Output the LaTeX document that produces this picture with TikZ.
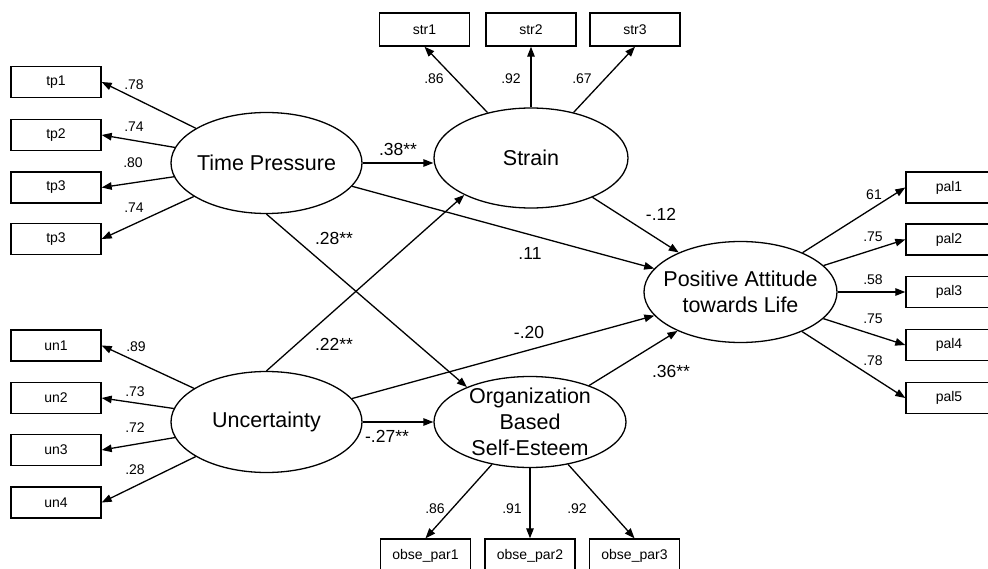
\documentclass[tikz,border=0pt]{standalone}
\usepackage{fontspec}
\setmainfont{Liberation Sans}
\usetikzlibrary{shapes.geometric,arrows.meta}
\begin{document}
\begin{tikzpicture}[x=1pt,y=-1pt,
  lat/.style={draw, ellipse, line width=1.3pt, inner sep=0pt},
  lattext/.style={align=center, font=\fontsize{21.5}{26}\selectfont, inner sep=0pt},
  obs/.style={draw, rectangle, line width=1.4pt, minimum width=90pt, minimum height=31pt, inner sep=0pt, font=\fontsize{14}{16}\selectfont},
  arr/.style={-{Triangle[length=10pt,width=7.5pt]}, line width=1.3pt},
  ld/.style={font=\fontsize{14}{16}\selectfont, inner sep=0pt},
  co/.style={font=\fontsize{17.5}{20}\selectfont, inner sep=0pt}]
\useasboundingbox (0,0) rectangle (988,569);
\clip (0,0) rectangle (988,569);

% latent variables
\node[lat, minimum width=191pt, minimum height=101pt] (TP) at (266.5,163) {};
\node[lattext] (TPt) at (TP) {Time Pressure};
\node[lat, minimum width=191pt, minimum height=101pt] (UN) at (266.5,422) {};
\node[lattext] (UNt) at (UN) {Uncertainty};
\node[lat, minimum width=194pt, minimum height=100pt] (S) at (531,158) {};
\node[lattext] (St) at (S) {Strain};
\node[lat, minimum width=193pt, minimum height=101pt] (PAL) at (740.5,292) {};
\node[lattext] (PALt) at (PAL) {Positive Attitude\\towards Life};
\node[lat, minimum width=192pt, minimum height=91pt] (OB) at (530,422) {};
\node[lattext] (OBt) at (OB) {Organization\\Based\\Self-Esteem};

% observed variables
\node[obs] (tp1) at (56,82) {tp1};
\node[obs] (tp2) at (56,135) {tp2};
\node[obs] (tp3) at (56,187.5) {tp3};
\node[obs] (tp4) at (56,239) {tp3};
\node[obs] (un1) at (56,345.5) {un1};
\node[obs] (un2) at (56,398) {un2};
\node[obs] (un3) at (56,450) {un3};
\node[obs] (un4) at (56,502.5) {un4};
\node[obs, minimum height=33pt] (str1) at (424.5,29.5) {str1};
\node[obs, minimum height=33pt] (str2) at (531,29.5) {str2};
\node[obs, minimum height=33pt] (str3) at (635,29.5) {str3};
\node[obs, minimum width=86pt] (pal1) at (949,187.5) {pal1};
\node[obs, minimum width=86pt] (pal2) at (949,239.5) {pal2};
\node[obs, minimum width=86pt] (pal3) at (949,292) {pal3};
\node[obs, minimum width=86pt] (pal4) at (949,345) {pal4};
\node[obs, minimum width=86pt] (pal5) at (949,398) {pal5};
\node[obs, minimum height=34pt] (ob1) at (425.5,556) {obse\_par1};
\node[obs, minimum height=34pt] (ob2) at (530,556) {obse\_par2};
\node[obs, minimum height=34pt] (ob3) at (634.5,556) {obse\_par3};

% loadings
\draw[arr] (TP) -- (tp1.east);
\draw[arr] (TP) -- (tp2.east);
\draw[arr] (TP) -- (tp3.east);
\draw[arr] (TP) -- (tp4.east);
\draw[arr] (UN) -- (un1.east);
\draw[arr] (UN) -- (un2.east);
\draw[arr] (UN) -- (un3.east);
\draw[arr] (UN) -- (un4.east);
\draw[arr] (S) -- (str1.south);
\draw[arr] (S.north) -- (str2.south);
\draw[arr] (S) -- (str3.south);
\draw[arr] (PAL) -- (pal1.west);
\draw[arr] (PAL) -- (pal2.west);
\draw[arr] (PAL.east) -- (pal3.west);
\draw[arr] (PAL) -- (pal4.west);
\draw[arr] (PAL) -- (pal5.west);
\draw[arr] (OB) -- (ob1.north);
\draw[arr] (OB.south) -- (ob2.north);
\draw[arr] (OB) -- (ob3.north);

% structural paths
\draw[arr] (TP.east) -- (S.west |- TP.east);
\draw[arr] (TP) -- (PAL);
\draw[arr] (TP.south) -- (OB.151);
\draw[arr] (UN.north) -- (S.209);
\draw[arr] (UN) -- (PAL);
\draw[arr] (UN.east) -- (OB.west);
\draw[arr] (S) -- (PAL);
\draw[arr] (OB) -- (PAL);

% loading labels
\node[ld] (l1) at (134,85) {.78};
\node[ld] (l2) at (134,127) {.74};
\node[ld] (l3) at (133,163) {.80};
\node[ld] (l4) at (134,208) {.74};
\node[ld] (l5) at (136,347) {.89};
\node[ld] (l6) at (135,392) {.73};
\node[ld] (l7) at (135,428) {.72};
\node[ld] (l8) at (135,470) {.28};
\node[ld] (l9) at (434,79) {.86};
\node[ld] (l10) at (511,79) {.92};
\node[ld] (l11) at (582,79) {.67};
\node[ld] (l12) at (874,195) {61};
\node[ld] (l13) at (873,237) {.75};
\node[ld] (l14) at (873,280) {.58};
\node[ld] (l15) at (873,319) {.75};
\node[ld] (l16) at (873,361) {.78};
\node[ld] (l17) at (435,509) {.86};
\node[ld] (l18) at (512,509) {.91};
\node[ld] (l19) at (577,509) {.92};

% structural labels
\node[co] (c1) at (398,149) {.38**};
\node[co] (c2) at (334,238) {.28**};
\node[co] (c3) at (334,344) {.22**};
\node[co] (c4) at (387,436) {-.27**};
\node[co] (c5) at (661,214) {-.12};
\node[co] (c6) at (530,253) {.11};
\node[co] (c7) at (529,332) {-.20};
\node[co] (c8) at (671,371) {.36**};
\end{tikzpicture}
\end{document}
